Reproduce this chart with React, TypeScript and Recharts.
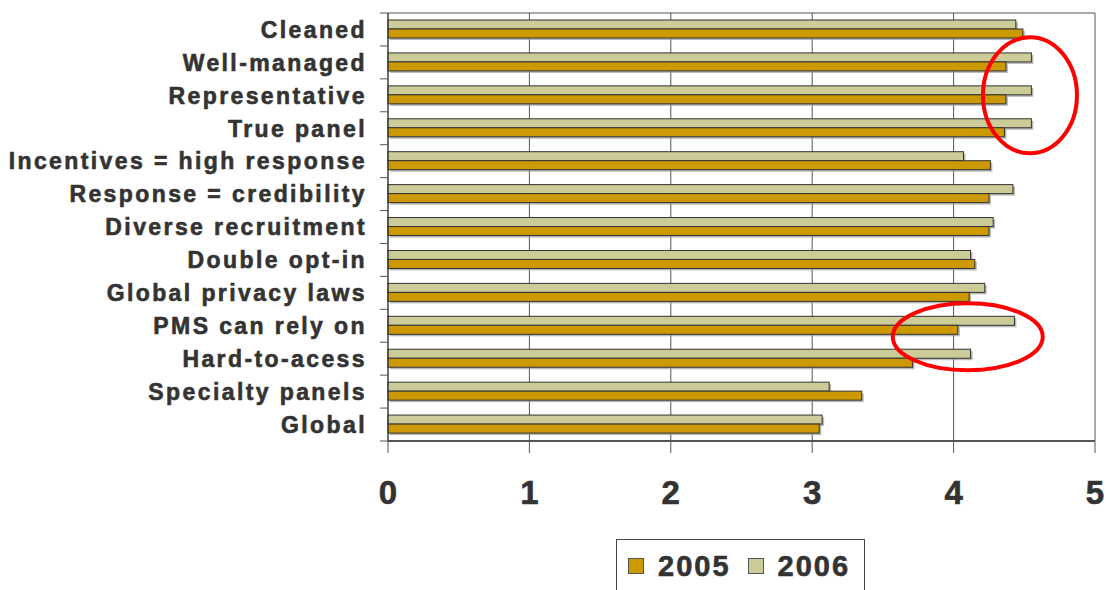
import React from "react";
import { BarChart, Bar, XAxis, YAxis, CartesianGrid, ReferenceDot } from "recharts";

const categories = [
  "Cleaned",
  "Well-managed",
  "Representative",
  "True panel",
  "Incentives = high response",
  "Response = credibility",
  "Diverse recruitment",
  "Double opt-in",
  "Global privacy laws",
  "PMS can rely on",
  "Hard-to-acess",
  "Specialty panels",
  "Global",
];
const values2005 = [4.49, 4.37, 4.37, 4.36, 4.26, 4.25, 4.25, 4.15, 4.11, 4.03, 3.71, 3.35, 3.05];
const values2006 = [4.44, 4.55, 4.55, 4.55, 4.07, 4.42, 4.28, 4.12, 4.22, 4.43, 4.12, 3.12, 3.07];
const xTicks = [0, 1, 2, 3, 4, 5];
const seriesNames = ["2005", "2006"];
const seriesColors = ["#CC9900", "#CCCC99"];

const data = categories.map((c, i) => ({ name: c, y2005: values2005[i], y2006: values2006[i] }));

const W = 1106;
const H = 590;
const MARGIN = { top: 13, right: 11, left: 0, bottom: 49 };
const Y_WIDTH = 388;
const X_HEIGHT = 100;
const PLOT_H = H - MARGIN.top - MARGIN.bottom - X_HEIGHT;
const BAND = PLOT_H / categories.length;
const FONT = "'Liberation Sans', Arial, Helvetica, sans-serif";
const TEXT = "#333333";

const YTick = (props: any) => {
  const { x, y, payload, index } = props;
  const axisX = x + 12 + 8;
  return (
    <g>
      <line x1={axisX - 8} x2={axisX} y1={y - BAND / 2} y2={y - BAND / 2} stroke="#555" strokeWidth={1} />
      {index === categories.length - 1 ? (
        <line x1={axisX - 8} x2={axisX} y1={y + BAND / 2} y2={y + BAND / 2} stroke="#555" strokeWidth={1} />
      ) : null}
      <text
        x={x - 1}
        y={y}
        dy="0.36em"
        textAnchor="end"
        fontFamily={FONT}
        fontWeight="bold"
        fontSize={23}
        letterSpacing={2.4}
        fill={TEXT}
        stroke={TEXT}
        strokeWidth={0.6}
      >
        {payload.value}
      </text>
    </g>
  );
};

const XTick = (props: any) => {
  const { x, y, payload } = props;
  return (
    <text
      x={x}
      y={y}
      dy="0.71em"
      textAnchor="middle"
      fontFamily={FONT}
      fontWeight="bold"
      fontSize={33}
      fill={TEXT}
      stroke={TEXT}
      strokeWidth={0.6}
    >
      {payload.value}
    </text>
  );
};

const ShadowBar = (props: any) => {
  const { x, y, width, height, fill } = props;
  if (width == null || height == null) return null;
  return (
    <g>
      <rect x={x + 2} y={y + 2} width={Math.max(width, 0)} height={height} fill="#9a9a9a" opacity={0.7} />
      <rect x={x} y={y} width={Math.max(width, 0)} height={height} fill={fill} stroke="#333" strokeWidth={1} />
    </g>
  );
};

const ellipseShape = (rx: number, ry: number, dy: number) => (props: any) => {
  const { cx, cy } = props;
  return <ellipse cx={cx} cy={cy + dy} rx={rx} ry={ry} fill="none" stroke="#FF0000" strokeWidth={4} />;
};

export default function App() {
  return (
    <div style={{ position: "absolute", left: 0, top: 0, width: W, height: H, overflow: "hidden", background: "#fff" }}>
      <BarChart
        width={W}
        height={H}
        data={data}
        layout="vertical"
        margin={MARGIN}
        barGap={0}
        barSize={9}
      >
        <CartesianGrid
          stroke="#555"
          strokeWidth={1}
          horizontal={true}
          vertical={true}
          horizontalCoordinatesGenerator={(p: any) => [p.offset.top]}
        />
        <XAxis
          type="number"
          domain={[0, 5]}
          ticks={xTicks}
          interval={0}
          height={X_HEIGHT}
          tickSize={12}
          tickMargin={28}
          tick={<XTick />}
          axisLine={{ stroke: "#555", strokeWidth: 2 }}
          tickLine={{ stroke: "#555", strokeWidth: 1 }}
        />
        <YAxis
          type="category"
          dataKey="name"
          width={Y_WIDTH}
          interval={0}
          tickSize={8}
          tickMargin={12}
          tickLine={false}
          tick={<YTick />}
          axisLine={{ stroke: "#333", strokeWidth: 1 }}
        />
        <Bar dataKey="y2006" name={seriesNames[1]} fill={seriesColors[1]} isAnimationActive={false} shape={<ShadowBar />} />
        <Bar dataKey="y2005" name={seriesNames[0]} fill={seriesColors[0]} isAnimationActive={false} shape={<ShadowBar />} />
        <ReferenceDot x={4.54} y="Representative" r={1} ifOverflow="visible" shape={ellipseShape(47, 58, 0)} />
        <ReferenceDot x={4.1} y="PMS can rely on" r={1} ifOverflow="visible" shape={ellipseShape(75, 33.5, 11)} />
      </BarChart>
      <div
        style={{
          position: "absolute",
          left: 616,
          top: 539,
          width: 249,
          height: 60,
          border: "1px solid #444",
          boxSizing: "border-box",
          background: "#fff",
          display: "flex",
          alignItems: "flex-start",
          paddingTop: 10,
          paddingLeft: 11,
          fontFamily: FONT,
          fontWeight: "bold",
          fontSize: 29,
          letterSpacing: 2,
          color: TEXT,
          WebkitTextStroke: "0.6px #333",
        }}
      >
        {seriesNames.map((n, i) => (
          <div key={n} style={{ display: "flex", alignItems: "center", marginRight: i === 0 ? 17 : 0 }}>
            <span
              style={{
                display: "inline-block",
                width: 14,
                height: 14,
                background: seriesColors[i],
                border: "1px solid #555",
                marginRight: 14,
                WebkitTextStroke: "0px",
              }}
            />
            <span style={{ lineHeight: "32px" }}>{n}</span>
          </div>
        ))}
      </div>
    </div>
  );
}
